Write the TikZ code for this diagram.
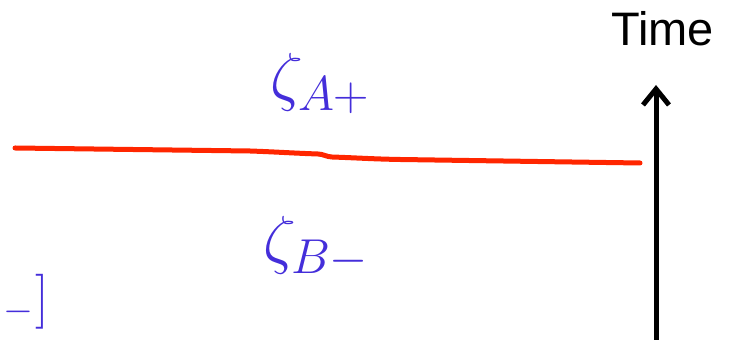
\RequirePackage{fix-cm}
\documentclass[tikz,border=0pt]{standalone}
\usepackage{fontspec}
\newfontfamily\timefont{Liberation Sans}
\usetikzlibrary{arrows.meta}
\DeclareMathSizes{65}{65}{49}{37}
\definecolor{zblue}{RGB}{68,46,218}
\definecolor{wred}{RGB}{255,38,0}
\tikzset{
  zlabel/.style={inner sep=0pt, text=zblue, font=\fontsize{65}{70}\selectfont},
  zsmall/.style={inner sep=0pt, text=zblue, font=\fontsize{55}{60}\selectfont},
  worldline/.style={draw=wred, line width=5pt, line cap=round},
  timearrow/.style={draw=black, line width=5pt, -{Straight Barb[length=16pt,width=26pt,line width=5pt]}},
}
\begin{document}
\begin{tikzpicture}[x=1pt,y=1pt]
\useasboundingbox (0,0) rectangle (735,344);
% red line
\coordinate (r0) at (15,196);
\coordinate (r1) at (250,193);
\coordinate (r2) at (318,190);
\coordinate (r3) at (332,187);
\coordinate (r4) at (400,184.5);
\coordinate (r5) at (640,181);
\draw[worldline] (r0) -- (r1) to[out=-2,in=178] (r2) to[out=-2,in=178] (r3) to[out=-2,in=179] (r4) -- (r5);
% labels
\node[zlabel, anchor=base west] (za) at (270,245) {$\zeta_{A+}$};
\node[zlabel, anchor=base west] (zb) at (263,82) {$\zeta_{B-}$};
\node[zsmall, anchor=center] (zm) at (18,32) {$\scriptstyle -$};
\node[zsmall, anchor=base east] (zbr) at (49,28) {$]$};
% time arrow
\coordinate (t0) at (656,4);
\coordinate (t1) at (656,259);
\draw[timearrow] (t0) -- (t1);
\node[inner sep=0pt, anchor=base west, font=\timefont\fontsize{47}{50}\selectfont] (time) at (611,298) {Time};
\end{tikzpicture}
\end{document}
